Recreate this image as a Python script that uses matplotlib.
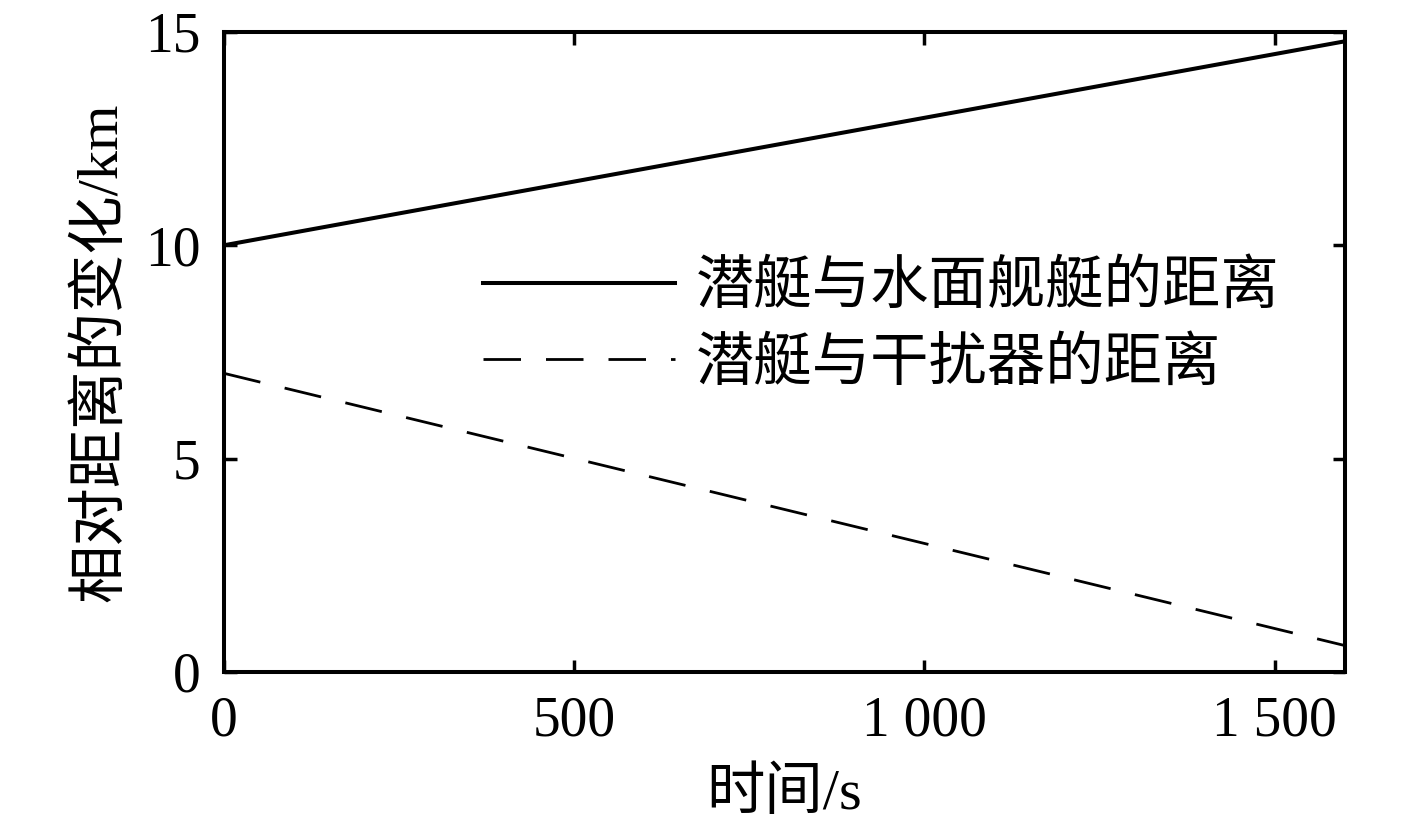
import matplotlib
matplotlib.use("Agg")
import matplotlib.pyplot as plt

plt.rcParams['font.family'] = ['Liberation Serif', 'Noto Sans CJK SC']

time_s = [0, 1600]
dist_surface = [10.0, 14.78]
dist_jammer = [7.0, 0.62]
label_surface = "潜艇与水面舰艇的距离"
label_jammer = "潜艇与干扰器的距离"
xticks = [0, 500, 1000, 1500]
xticklabels = ["0", "500", "1 000", "1 500"]
yticks = [0, 5, 10, 15]
yticklabels = ["0", "5", "10", "15"]

fig = plt.figure(figsize=(14.17, 8.19), dpi=100)
ax = fig.add_axes([0.158, 0.1795, 0.791, 0.7815])

ax.plot(time_s, dist_surface, color='black', lw=2.9, label=label_surface)
ax.plot(time_s, dist_jammer, color='black', lw=2.0, ls=(0, (13.5, 9)), label=label_jammer)

ax.set_xlim(0, 1600)
ax.set_ylim(0, 15)
ax.set_xticks(xticks)
ax.set_xticklabels(xticklabels)
ax.set_yticks(yticks)
ax.set_yticklabels(yticklabels)
ax.tick_params(direction='in', top=True, right=True, length=9, width=2.5,
               labelsize=40)
ax.tick_params(axis='x', pad=17)
ax.tick_params(axis='y', pad=17)
for s in ax.spines.values():
    s.set_linewidth(2.9)

ax.set_xlabel("时间/s", fontsize=42, labelpad=14)
ax.set_ylabel("相对距离的变化/km", fontsize=42, labelpad=12)

leg = ax.legend(loc='upper left', bbox_to_anchor=(0.231, 0.643), frameon=False,
                fontsize=42, handlelength=3.3, handletextpad=0.35,
                labelspacing=0.37, borderaxespad=0, borderpad=0)

fig.savefig("out.png", dpi=100)
